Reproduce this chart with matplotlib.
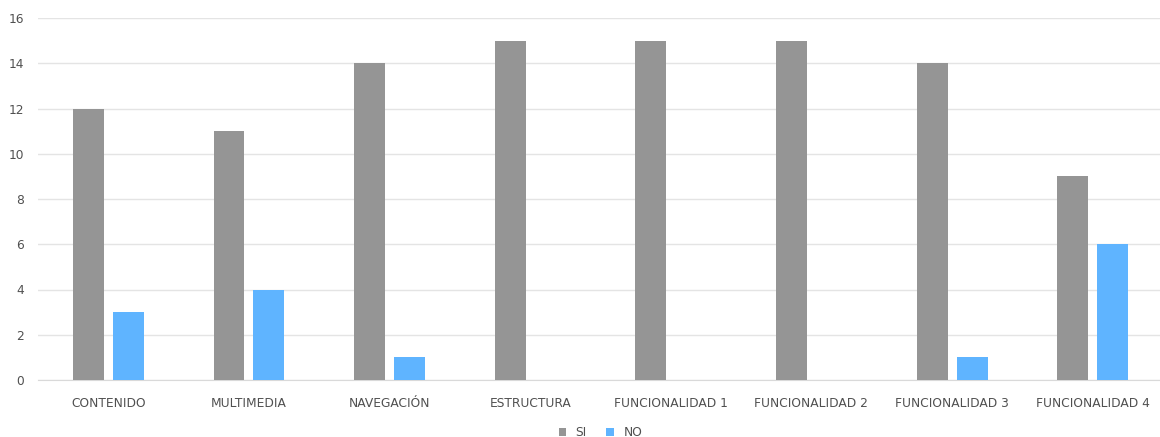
import matplotlib
matplotlib.use("Agg")
import matplotlib.pyplot as plt
import numpy as np

categories = ["CONTENIDO", "MULTIMEDIA", "NAVEGACIÓN", "ESTRUCTURA",
              "FUNCIONALIDAD 1", "FUNCIONALIDAD 2", "FUNCIONALIDAD 3", "FUNCIONALIDAD 4"]
si_values = [12, 11, 14, 15, 15, 15, 14, 9]
no_values = [3, 4, 1, 0, 0, 0, 1, 6]
y_ticks = [0, 2, 4, 6, 8, 10, 12, 14, 16]

plt.rcParams['font.family'] = ['DejaVu Sans']

fig = plt.figure(figsize=(11.6, 4.37), dpi=100)
ax = fig.add_axes([38 / 1160, 57 / 437, 1125 / 1160, 362 / 437])

x = np.arange(len(categories))
width = 0.22
offset = 0.142
ax.bar(x - offset, si_values, width, color="#959595", label="SI", zorder=3)
ax.bar(x + offset, no_values, width, color="#5fb4ff", label="NO", zorder=3)

ax.set_xlim(-0.5, 7.5)
ax.set_ylim(0, 16)
ax.set_yticks(y_ticks)
ax.set_xticks(x)
ax.set_xticklabels(categories)
ax.grid(axis="y", color="#e4e4e4", linewidth=1, zorder=0)
ax.tick_params(axis="both", length=0, labelsize=8.8, labelcolor="#505050")
ax.tick_params(axis="x", pad=12)
ax.tick_params(axis="y", pad=10)
for side in ["top", "right", "left"]:
    ax.spines[side].set_visible(False)
ax.spines["bottom"].set_color("#d9d9d9")

ax.legend(loc="center", bbox_to_anchor=(0.5, -0.145), ncol=2, frameon=False,
          fontsize=8.8, labelcolor="#505050", handlelength=0.6, handleheight=0.6,
          columnspacing=1.6, handletextpad=0.8)

fig.savefig("out.png", dpi=100)
